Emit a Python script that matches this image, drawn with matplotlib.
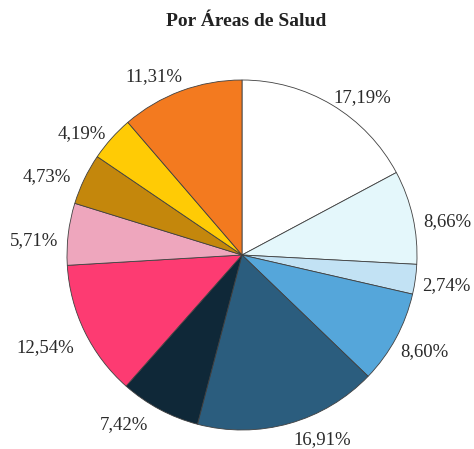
import matplotlib.pyplot as plt
import numpy as np

# Datos
valores = [17.19, 8.66, 2.74, 8.60, 16.91, 7.42, 12.54, 5.71, 4.73, 4.19, 11.31]
etiquetas = ['17,19%', '8,66%', '2,74%', '8,60%', '16,91%', '7,42%',
             '12,54%', '5,71%', '4,73%', '4,19%', '11,31%']
colores = ['#ffffff', '#e4f7fb', '#c2e2f4', '#55a6da', '#2b5d7e', '#0f2838',
           '#fd3b72', '#eea6bd', '#c4870c', '#ffcb05', '#f37a1f']

# ajuste de las etiquetas (grados de giro, distancia relativa al radio)
giro = [-6.5, -3.4, -0.6, 0.5, 7.8, -6.7, -0.8, 3, 3.8, 4.5, 5.9]
dist = [1.13, 1.19, 1.18, 1.18, 1.15, 1.18, 1.245, 1.19, 1.20, 1.15, 1.135]

plt.rcParams['font.family'] = ['Liberation Serif', 'DejaVu Serif']

W, H = 474, 449
cx, cy, R = 242, 255, 175  # centro y radio en pixeles
fig = plt.figure(figsize=(W / 100, H / 100), dpi=100)
ax = fig.add_axes([0, 0, 1, 1])

wedges, _ = ax.pie(valores, colors=colores, startangle=90, counterclock=False,
                   radius=1,
                   wedgeprops=dict(edgecolor='#404040', linewidth=0.6))

for w, lab, g, d in zip(wedges, etiquetas, giro, dist):
    ang = np.deg2rad((w.theta1 + w.theta2) / 2 + g)
    ax.text(d * np.cos(ang), d * np.sin(ang), lab, ha='center', va='center',
            fontsize=13.5, color='#2a2a2a')

ax.set_xlim(-cx / R, (W - cx) / R)
ax.set_ylim((cy - H) / R, cy / R)
ax.axis('off')

fig.text(246 / W, 1 - 22 / H, 'Por Áreas de Salud', ha='center', va='center',
         fontsize=14, fontweight='bold', color='#222222')

fig.savefig('out.png', dpi=100)
